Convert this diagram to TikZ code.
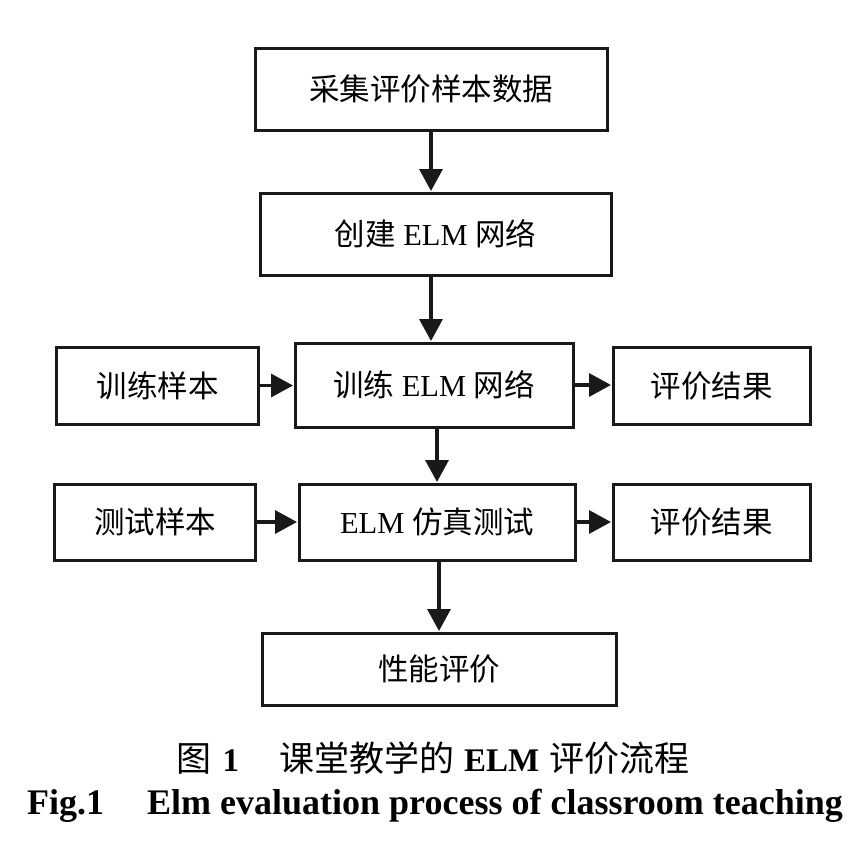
\documentclass[tikz,border=0pt]{standalone}
\usepackage{fontspec}
\setmainfont{Liberation Serif}
\newfontfamily\cjk{Noto Sans CJK SC}
\usetikzlibrary{arrows.meta}
\tikzset{
  box/.style={draw=black!90, line width=3bp, inner sep=0pt, align=center,
    font=\fontsize{30.5bp}{36bp}\selectfont},
  arr/.style={line width=3.4bp, draw=black!90,
    -{Triangle[length=22bp,width=23bp]}, shorten >=0.5bp},
  caption/.style={inner sep=0pt, anchor=center}
}
\newcommand{\capbf}[1]{{\fontsize{33bp}{40bp}\selectfont\bfseries #1}}
\begin{document}
\begin{tikzpicture}[x=1bp,y=-1bp]
\useasboundingbox[fill=white] (0,0) rectangle (864,841);
% boxes
\node[box, minimum width=352bp, minimum height=82bp] (b1) at (431,89) {\cjk 采集评价样本数据};
\node[box, minimum width=351bp, minimum height=82bp] (b2) at (435.5,234) {{\cjk 创建} ELM {\cjk 网络}};
\node[box, minimum width=201bp, minimum height=77bp] (tl) at (157.5,385.5) {\cjk 训练样本};
\node[box, minimum width=278bp, minimum height=84bp] (tm) at (434,385) {{\cjk 训练} ELM {\cjk 网络}};
\node[box, minimum width=197bp, minimum height=77bp] (tr) at (711.5,385.5) {\cjk 评价结果};
\node[box, minimum width=200bp, minimum height=76bp] (sl) at (155,522) {\cjk 测试样本};
\node[box, minimum width=276bp, minimum height=76bp] (sm) at (437,522) {ELM {\cjk 仿真测试}};
\node[box, minimum width=197bp, minimum height=76bp] (sr) at (711.5,522) {\cjk 评价结果};
\node[box, minimum width=354bp, minimum height=72bp] (b5) at (439,669) {\cjk 性能评价};
% connectors
\draw[arr] (b1.south) -- (b1.south |- b2.north);
\draw[arr] (b1.south |- b2.south) -- (b1.south |- tm.north);
\draw[arr] (sm.north |- tm.south) -- (sm.north);
\draw[arr] (b5.north |- sm.south) -- (b5.north);
\draw[arr] (tl.east) -- (tl.east -| tm.west);
\draw[arr] (tm.east) -- (tm.east -| tr.west);
\draw[arr] (sl.east) -- (sl.east -| sm.west);
\draw[arr] (sm.east) -- (sm.east -| sr.west);
% captions
\node[caption, font=\fontsize{35bp}{40bp}\selectfont] (cap1) at (433,758)
  {{\cjk 图}\hspace{11bp}\capbf{1}\hspace{40bp}{\cjk 课堂教学的}\hspace{10bp}\capbf{ELM}\hspace{10bp}{\cjk 评价流程}};
\node[caption, font=\fontsize{36bp}{42bp}\selectfont\bfseries] (cap2) at (435,806)
  {Fig.1\hspace{43bp}Elm evaluation process of classroom teaching};
\end{tikzpicture}
\end{document}
